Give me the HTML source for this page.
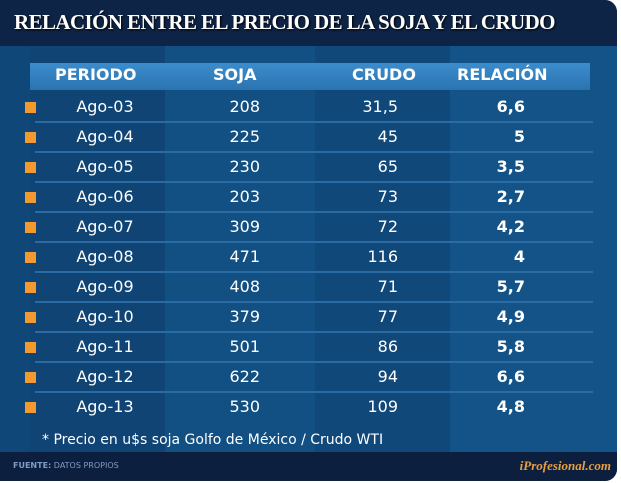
<!DOCTYPE html>
<html><head><style>
body{margin:0;width:621px;height:483px;background:#fff;font-family:"DejaVu Sans",Verdana,sans-serif;overflow:hidden}
.card{position:absolute;left:0;top:0;width:617px;height:481px;border-radius:0 12px 12px 0;overflow:hidden;background:#0f4878}
.hd{position:absolute;left:0;top:0;width:617px;height:46px;background:#0e2446}
.hd div{position:absolute;left:14px;top:10px;font-family:"Liberation Serif",serif;font-weight:bold;font-size:21px;color:#fff;text-shadow:1px 1px 2px #000;letter-spacing:-0.6px}
.band{position:absolute;top:46px;height:406px}
.bar{position:absolute;left:30px;top:63px;width:560px;height:27px;background:linear-gradient(#3c8ccc,#2a74b0)}
.th{position:absolute;top:65px;font-weight:bold;font-size:16px;color:#fff}
.r{position:absolute;font-size:16px;color:#fff;line-height:20px}
.sq{position:absolute;left:25px;width:11px;height:11px;background:#f29a30}
.ln{position:absolute;left:35px;width:558px;height:2px;background:#2a6ba3}
.ft{position:absolute;left:0;top:452px;width:617px;height:29px;background:#0d1f3f}
</style></head><body>
<div class="card">
<div class="hd"><div>RELACIÓN ENTRE EL PRECIO DE LA SOJA Y EL CRUDO</div></div>
<div class="band" style="left:30px;width:135px;background:#0f4474"></div>
<div class="band" style="left:165px;width:150px;background:#124f82"></div>
<div class="band" style="left:315px;width:135px;background:#10487a"></div>
<div class="band" style="left:450px;width:167px;background:#135387"></div>
<div class="bar"></div>
<div class="th" style="left:55px">PERIODO</div>
<div class="th" style="left:213px">SOJA</div>
<div class="th" style="left:352px">CRUDO</div>
<div class="th" style="left:457px">RELACIÓN</div>
<div id="rows"></div>
<div class="r" style="left:42px;top:430px;font-size:14px">* Precio en u$s soja Golfo de México / Crudo WTI</div>
<div class="ft">
<div style="position:absolute;left:13px;top:9px;font-size:8px;color:#7f9dc4"><b>FUENTE:</b> DATOS PROPIOS</div>
<div style="position:absolute;right:6px;top:6px;font-family:'Liberation Serif',serif;font-style:italic;font-weight:bold;font-size:13px;color:#e8a040">iProfesional.com</div>
</div>
</div>
<script>
var d=[["Ago-03","208","31,5","6,6"],["Ago-04","225","45","5"],["Ago-05","230","65","3,5"],["Ago-06","203","73","2,7"],["Ago-07","309","72","4,2"],["Ago-08","471","116","4"],["Ago-09","408","71","5,7"],["Ago-10","379","77","4,9"],["Ago-11","501","86","5,8"],["Ago-12","622","94","6,6"],["Ago-13","530","109","4,8"]];
var h="";d.forEach(function(r,i){var y=97+i*30;
h+='<div class="sq" style="top:'+(y+5)+'px"></div>';
h+='<div class="r" style="left:40px;width:130px;text-align:center;top:'+y+'px">'+r[0]+'</div>';
h+='<div class="r" style="left:160px;width:100px;text-align:right;top:'+y+'px">'+r[1]+'</div>';
h+='<div class="r" style="left:298px;width:100px;text-align:right;top:'+y+'px">'+r[2]+'</div>';
h+='<div class="r" style="left:425px;width:100px;text-align:right;font-weight:bold;top:'+y+'px">'+r[3]+'</div>';
if(i<10)h+='<div class="ln" style="top:'+(y+24)+'px"></div>';});
document.getElementById("rows").innerHTML=h;
</script>
</body></html>
